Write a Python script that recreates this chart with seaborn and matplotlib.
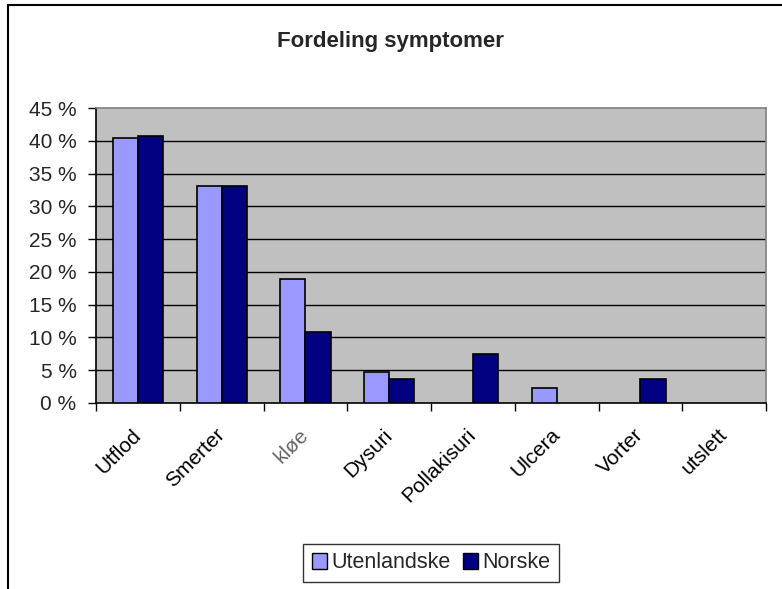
import matplotlib
matplotlib.use("Agg")
import matplotlib.pyplot as plt
import pandas as pd
import seaborn as sns
from matplotlib.patches import Patch, Rectangle
from matplotlib.ticker import FuncFormatter

# ============================================================
# Data (in percent)
# ============================================================
categories = ["Utflod", "Smerter", "kløe", "Dysuri", "Pollakisuri", "Ulcera", "Vorter", "utslett"]
utenlandske = [40.4, 33.1, 18.9, 4.7, 0.0, 2.3, 0.0, 0.0]
norske = [40.7, 33.1, 10.9, 3.7, 7.4, 0.0, 3.7, 0.0]
series_names = ["Utenlandske", "Norske"]
colors = ["#9999FF", "#000080"]
y_ticks = [0, 5, 10, 15, 20, 25, 30, 35, 40, 45]

df = pd.DataFrame({
    "Symptom": categories * 2,
    "Andel": utenlandske + norske,
    "Gruppe": [series_names[0]] * len(categories) + [series_names[1]] * len(categories),
})

sns.set_theme(style="white")
plt.rcParams["font.family"] = ["Liberation Sans", "DejaVu Sans"]

fig = plt.figure(figsize=(7.82, 5.89), dpi=100)
ax = fig.add_axes([96 / 782, 1 - 403 / 589, 670 / 782, 295 / 589])

sns.barplot(
    data=df, x="Symptom", y="Andel", hue="Gruppe", order=categories,
    hue_order=series_names, palette=colors, width=0.6,
    edgecolor="black", linewidth=1.2, saturation=1, ax=ax, zorder=3, legend=False,
)
# empty bars are not drawn at all in the original
for bar in ax.patches:
    if bar.get_height() == 0:
        bar.set_visible(False)

ax.set_facecolor("#C0C0C0")
ax.set_ylim(0, 45)
ax.set_xlim(-0.5, len(categories) - 0.5)
ax.set_yticks(y_ticks)
ax.yaxis.set_major_formatter(FuncFormatter(lambda v, p: f"{v:.0f} %"))
for v in y_ticks[1:-1]:
    ax.axhline(v, color="black", linewidth=1.0, zorder=1)

ax.set_xticks([i - 0.5 for i in range(len(categories) + 1)])
ax.set_xticklabels([])
ax.tick_params(axis="x", direction="out", length=6, width=1, color="black", bottom=True)
ax.tick_params(axis="y", direction="out", length=6, width=1, color="black", left=True,
               labelsize=15, pad=8)
for i, name in enumerate(categories):
    ax.text(i - 0.08, -3.4, name, rotation=45, ha="right", va="top",
            rotation_mode="anchor", fontsize=15,
            color="#666666" if name == "kløe" else "black")

for side in ["top", "right"]:
    ax.spines[side].set_color("#808080")
    ax.spines[side].set_linewidth(1.2)
for side in ["left", "bottom"]:
    ax.spines[side].set_color("black")
    ax.spines[side].set_linewidth(1.2)

ax.set_xlabel("")
ax.set_ylabel("")

handles = [Patch(facecolor=c, edgecolor="black", linewidth=1.0, label=n)
           for c, n in zip(colors, series_names)]
leg = fig.legend(
    handles=handles, loc="center", bbox_to_anchor=(431 / 782, 1 - 563 / 589),
    ncol=2, fontsize=15.5, frameon=True, fancybox=False, handlelength=0.7, handleheight=0.7,
    handletextpad=0.2, columnspacing=0.6, borderpad=0.4, borderaxespad=0,
)
leg.get_frame().set_edgecolor("black")
leg.get_frame().set_linewidth(1.0)

fig.text(390 / 782, 1 - 42 / 589, "Fordeling symptomer", ha="center", va="center",
         fontsize=16, fontweight="bold")

# chart area border (only top and left edges visible in the crop)
fig.patches.append(Rectangle((8 / 782, -0.1), 1.0, 1 - 5 / 589 + 0.1, transform=fig.transFigure,
                             fill=False, edgecolor="black", linewidth=1.5))

fig.savefig("out.png", dpi=100)
plt.close()
